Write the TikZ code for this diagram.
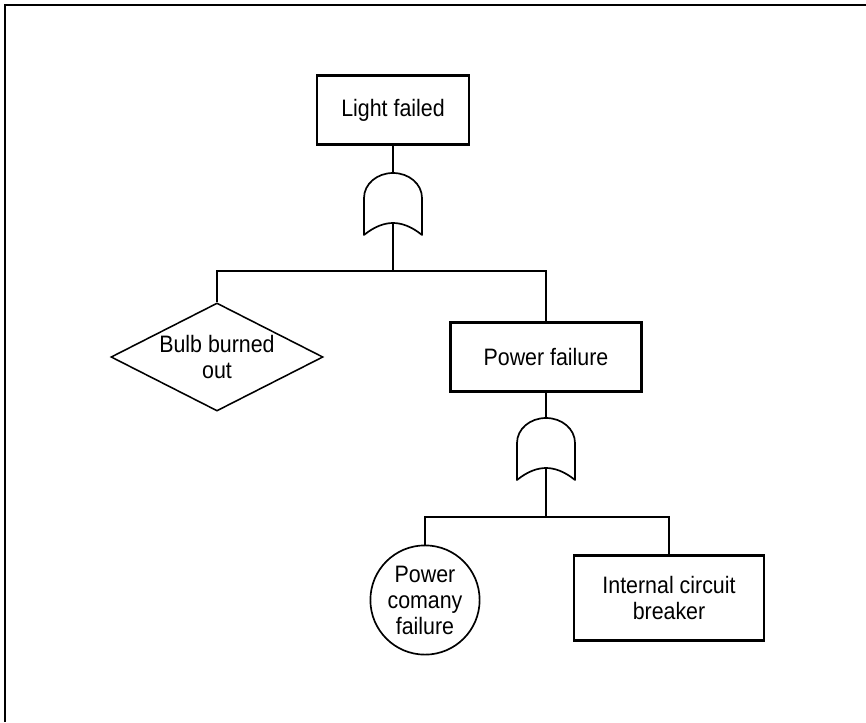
\documentclass[tikz,border=0pt]{standalone}
\usepackage{fontspec}
\setmainfont{Liberation Sans}[FakeStretch=0.9]
\usetikzlibrary{shapes.geometric}

\tikzset{
  event/.style={draw, line width=1.7pt, rectangle, align=center, inner sep=2pt},
  basic/.style={draw, line width=1.2pt, circle, align=center, inner sep=1pt, minimum size=2.73cm},
  undev/.style={draw, line width=1.1pt, diamond, align=center, inner sep=0pt, shape aspect=2,
    minimum width=5.3cm, minimum height=2.7cm},
  link/.style={line width=0.8pt},
  gateline/.style={line width=1.2pt, line join=round},
  orgate/.pic={
    \draw[gateline] (0,0) .. controls (16,0) and (29,11) .. (29,25) -- (29,62)
      .. controls (18,53) and (8,50) .. (0,50) .. controls (-8,50) and (-18,53) .. (-29,62)
      -- (-29,25) .. controls (-29,11) and (-16,0) .. cycle;
    \coordinate (-in) at (0,0);
    \coordinate (-out) at (0,50);
  }
}

\begin{document}
\begin{tikzpicture}[x=0.025cm, y=-0.025cm,
    every node/.style={font=\fontsize{16.9}{18.5}\selectfont}]
  \useasboundingbox (0,0) rectangle (866,722);
  \draw[line width=1.5pt] (5,722) -- (5,5) -- (866,5);

  \node[event, minimum width=3.8cm, minimum height=1.725cm] (light) at (393,110) {Light failed};
  \pic (gA) at (393,173) {orgate};
  \coordinate (barA) at (393,271);
  \node[undev] (bulb) at (217,357) {Bulb burned\\out};
  \node[event, minimum width=4.775cm, minimum height=1.725cm] (power) at (546,357) {Power failure};
  \pic (gB) at (546,418) {orgate};
  \coordinate (barB) at (546,517);
  \node[basic] (comp) at (425,600) {Power\\comany\\failure};
  \node[event, minimum width=4.75cm, minimum height=2.125cm] (breaker) at (669,598) {Internal circuit\\breaker};

  \begin{scope}[link]
    \draw (light) -- (gA-in);
    \draw (gA-out) -- (barA);
    \draw (bulb.north) |- (barA) -| (power.north);
    \draw (power) -- (gB-in);
    \draw (gB-out) -- (barB);
    \draw (comp.north) |- (barB) -| (breaker.north);
  \end{scope}
\end{tikzpicture}
\end{document}
